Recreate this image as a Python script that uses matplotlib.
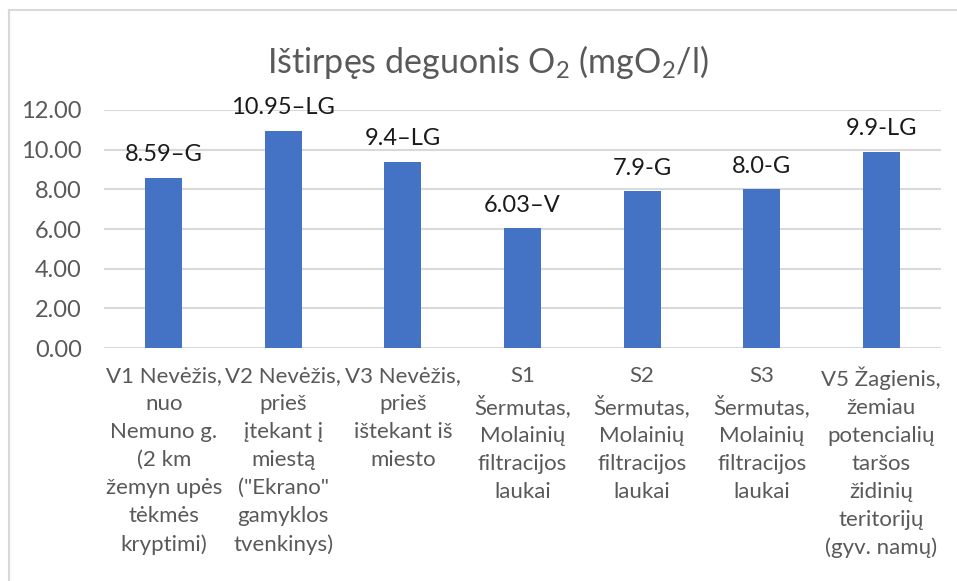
import numpy as np
import matplotlib.pyplot as plt
from matplotlib.lines import Line2D

plt.rcParams['font.family'] = ['Lato', 'DejaVu Sans']
plt.rcParams['mathtext.default'] = 'regular'

# ======== data
categories = [
    'V1 Nevėžis,\nnuo\nNemuno g.\n(2 km\nžemyn upės\ntėkmės\nkryptimi)',
    'V2 Nevėžis,\nprieš\nįtekant į\nmiestą\n("Ekrano"\ngamyklos\ntvenkinys)',
    'V3 Nevėžis,\nprieš\ništekant iš\nmiesto',
    'S1\nŠermutas,\nMolainių\nfiltracijos\nlaukai',
    'S2\nŠermutas,\nMolainių\nfiltracijos\nlaukai',
    'S3\nŠermutas,\nMolainių\nfiltracijos\nlaukai',
    'V5 Žagienis,\nžemiau\npotencialių\ntaršos\nžidinių\nteritorijų\n(gyv. namų)',
]
values = [8.59, 10.95, 9.4, 6.03, 7.9, 8.0, 9.9]
bar_labels = ['8.59–G', '10.95–LG', '9.4–LG', '6.03–V', '7.9-G', '8.0-G', '9.9-LG']
yticks = [0, 2, 4, 6, 8, 10, 12]

# ======== plot figure
fig = plt.figure(figsize=(9.57, 5.81), dpi=100)
ax = fig.add_axes([0.1087, 0.401, 0.8746, 0.4097])

x = np.arange(len(values))
bars = ax.bar(x, values, width=0.31, color='#4472C4', zorder=3)

for xi, v, lab in zip(x, values, bar_labels):
    ax.annotate(lab, (xi, v), xytext=(0, 12), textcoords='offset points',
                ha='center', va='baseline', fontsize=17, color='#1a1a1a')

ax.set_xlim(-0.5, len(values) - 0.5)
ax.set_ylim(0, 12)
ax.set_yticks(yticks)
ax.set_yticklabels(['%.2f' % t for t in yticks])
ax.set_xticks(x)
ax.set_xticklabels(categories, fontsize=16, color='#595959', linespacing=1.5)
ax.tick_params(axis='y', length=0, pad=16, labelsize=17, labelcolor='#595959')
ax.tick_params(axis='x', length=0, pad=13)
ax.grid(axis='y', color='#d9d9d9', linewidth=1.5, zorder=0)
for s in ax.spines.values():
    s.set_visible(False)

fig.text(0.51, 0.893, r'Ištirpęs deguonis O$_2$ (mgO$_2$/l)', ha='center',
         va='center', fontsize=24.5, color='#595959')

# chart area border (top and left)
fig.add_artist(Line2D([0.0094, 1.0], [0.983, 0.983], color='#d9d9d9', linewidth=1.5))
fig.add_artist(Line2D([0.0094, 0.0094], [0.0, 0.983], color='#d9d9d9', linewidth=1.5))

plt.savefig('out.png', dpi=100)
